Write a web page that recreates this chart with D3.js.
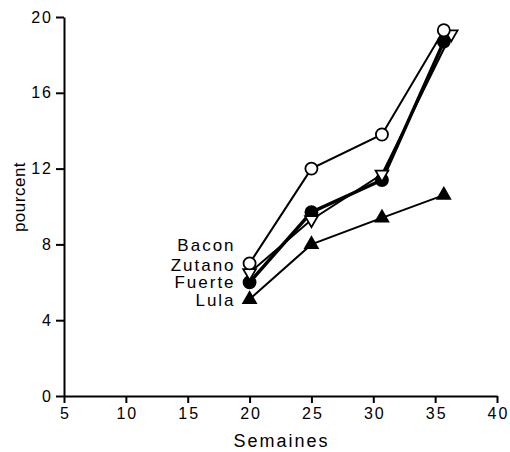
<!DOCTYPE html>
<html>
<head>
<meta charset="utf-8">
<script src="https://cdn.jsdelivr.net/npm/d3@7"></script>
<style>
  body { margin: 0; background: #fff; }
  svg { display: block; font-family: "Liberation Sans", Arial, sans-serif; }
</style>
</head>
<body>
<svg id="chart" width="510" height="452"></svg>
<script>
// semaines (x) and pourcent (y)
const weeks       = [20, 25, 30.7, 35.7];
const zutanoWeeks = [20, 25, 30.7, 36.3];
const bacon  = [7.0, 12.0, 13.8, 19.3];
const zutano = [6.5, 9.3, 11.7, 19.1];
const fuerte = [6.0, 9.7, 11.4, 18.7];
const lula   = [5.1, 8.0, 9.4, 10.6];
const xTicks = [5, 10, 15, 20, 25, 30, 35, 40];
const yTicks = [0, 4, 8, 12, 16, 20];
const labels = ["Bacon", "Zutano", "Fuerte", "Lula"];
const labelLevels = [7.65, 6.6, 5.7, 4.75];

const svg = d3.select("#chart");
const margin = {top: 17, right: 13, bottom: 56, left: 64};
const width = 510 - margin.left - margin.right;
const height = 452 - margin.top - margin.bottom;

const x = d3.scaleLinear().domain([5, 40]).range([0, width]);
const y = d3.scaleLinear().domain([0, 20]).range([height, 0]);

const g = svg.append("g")
    .attr("transform", "translate(" + margin.left + "," + margin.top + ")");

// axes
const xAxis = g.append("g")
    .attr("transform", "translate(0," + height + ")")
    .call(d3.axisBottom(x).tickValues(xTicks).tickSizeInner(7).tickSizeOuter(0).tickPadding(5));
const yAxis = g.append("g")
    .call(d3.axisLeft(y).tickValues(yTicks).tickSizeInner(8).tickSizeOuter(0).tickPadding(3));

[xAxis, yAxis].forEach(function(a) {
    a.select(".domain").attr("stroke", "#000").attr("stroke-width", 2);
    a.selectAll(".tick line").attr("stroke", "#000").attr("stroke-width", 2);
    a.selectAll(".tick text")
        .attr("fill", "#000")
        .style("font-size", "16px")
        .style("letter-spacing", "2px")
        .style("font-family", "\"Liberation Sans\", Arial, sans-serif");
});
xAxis.selectAll(".tick text").attr("dx", "1px");

g.append("text")
    .attr("x", x(22.5) + 1)
    .attr("y", height + 51)
    .attr("text-anchor", "middle")
    .style("font-size", "18px")
    .style("letter-spacing", "2px")
    .text("Semaines");

g.append("text")
    .attr("transform", "translate(-39," + y(10.5) + ") rotate(-90)")
    .attr("text-anchor", "middle")
    .style("font-size", "17px")
    .style("letter-spacing", "0.5px")
    .text("pourcent");

// series
const series = [
    {name: "Bacon",  xs: weeks,       ys: bacon,  w: 2,   marker: "circleOpen"},
    {name: "Zutano", xs: zutanoWeeks, ys: zutano, w: 2,   marker: "triDown"},
    {name: "Fuerte", xs: weeks,       ys: fuerte, w: 3.5, marker: "circleFilled"},
    {name: "Lula",   xs: weeks,       ys: lula,   w: 2,   marker: "triUp"}
];

const line = d3.line()
    .x(function(d) { return x(d[0]); })
    .y(function(d) { return y(d[1]); });

series.forEach(function(s) {
    s.points = s.xs.map(function(v, i) { return [v, s.ys[i]]; });
    g.append("path")
        .datum(s.points)
        .attr("fill", "none")
        .attr("stroke", "#000")
        .attr("stroke-width", s.w)
        .attr("d", line);
});

const sym = {
    circleOpen:   {type: d3.symbolCircle,   size: 115, fill: "#fff"},
    circleFilled: {type: d3.symbolCircle,   size: 115, fill: "#000"},
    triUp:        {type: d3.symbolTriangle, size: 70,  fill: "#000"},
    triDown:      {type: d3.symbolTriangle, size: 70,  fill: "#fff"}
};

// draw in reverse order so the open markers sit on top
series.slice().reverse().forEach(function(s) {
    const m = sym[s.marker];
    g.selectAll(null)
        .data(s.points)
        .enter().append("path")
        .attr("d", d3.symbol().type(m.type).size(m.size))
        .attr("transform", function(d) {
            return "translate(" + x(d[0]) + "," + y(d[1]) + ")" +
                (s.marker === "triDown" ? " rotate(180)" : "");
        })
        .attr("fill", m.fill)
        .attr("stroke", "#000")
        .attr("stroke-width", 1.8);
});

// series labels beside the first points
labels.forEach(function(name, i) {
    g.append("text")
        .attr("x", x(20) - 14)
        .attr("y", y(labelLevels[i]))
        .attr("text-anchor", "end")
        .style("font-size", "17px")
        .style("letter-spacing", "2px")
        .text(name);
});
</script>
</body>
</html>
